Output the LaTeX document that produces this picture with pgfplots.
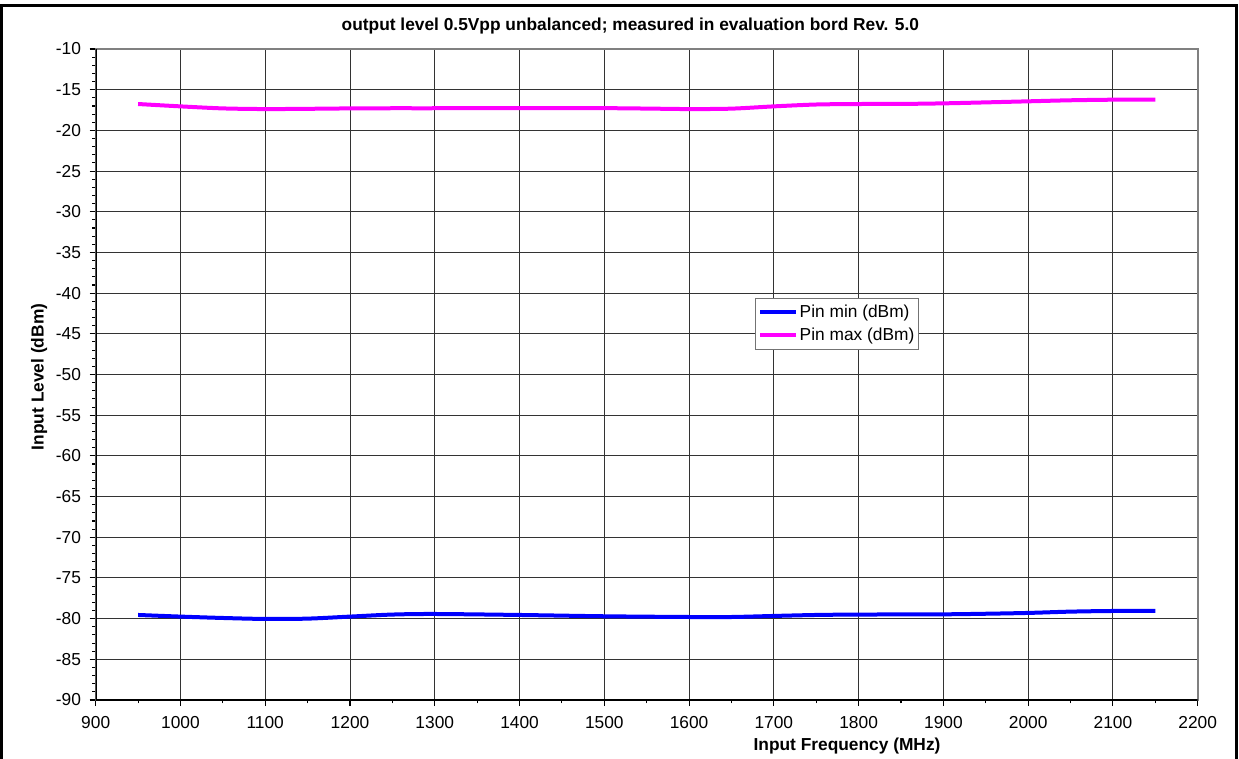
\documentclass[border=0pt]{standalone}
\usepackage{fontspec}
\setmainfont{Liberation Sans}
\usepackage{pgfplots}
\pgfplotsset{compat=1.18}
\definecolor{pinmin}{RGB}{0,0,255}
\definecolor{pinmax}{RGB}{255,0,255}
\newcommand{\chartfont}{\fontsize{13}{15}\selectfont}
\begin{document}
\begin{tikzpicture}
\useasboundingbox (-71.775pt,-43.5pt) rectangle (857.475pt,525pt);
\begin{axis}[
  scale only axis,
  width=826.5pt, height=488.25pt,
  xmin=900, xmax=2200, ymin=-90, ymax=-10,
  xtick distance=100, ytick distance=5,
  minor x tick num=1, minor y tick num=4,
  tick pos=left, tick align=outside,
  major tick length=4.5pt, minor tick length=2.5pt,
  tick style={black, line width=0.8pt},
  grid=major,
  major grid style={black!80, line width=0.75pt},
  axis line style={gray, line width=1.5pt},
  /pgf/number format/assume math mode=true,
  /pgf/number format/1000 sep={},
  tick label style={font=\chartfont},
  yticklabel style={xshift=-3pt},
  xticklabel style={yshift=-4pt},
  xlabel={Input Frequency (MHz)},
  xlabel style={font=\chartfont\bfseries, at={(0.6818,-0.0700)}, anchor=center},
  ylabel={Input Level (dBm)},
  ylabel style={font=\chartfont\bfseries, at={(-0.0514,0.4962)}, anchor=center},
  legend cell align=left,
  legend image code/.code={\draw[#1] (0pt,0pt) -- (27pt,0pt);},
  legend style={at={(0.5985,0.617)}, anchor=north west, draw=gray!90!black, line width=0.75pt, fill=white,
    font=\chartfont, inner xsep=2pt, inner ysep=1.5pt, row sep=0pt,
    nodes={inner xsep=1pt, inner ysep=3.2pt}},
]
\addplot[pinmin, line width=3pt, smooth, tension=0.5] coordinates {
(950,-79.55) (1000,-79.75) (1050,-79.92) (1100,-80.04) (1150,-80.00) (1200,-79.75)
(1250,-79.50) (1300,-79.43) (1400,-79.55) (1500,-79.71) (1600,-79.80) (1650,-79.80)
(1700,-79.67) (1750,-79.55) (1800,-79.50) (1900,-79.47) (1950,-79.40) (2000,-79.30)
(2050,-79.14) (2100,-79.06) (2150,-79.06)};
\addlegendentry{Pin min (dBm)}
\addplot[pinmax, line width=3pt, smooth, tension=0.5] coordinates {
(950,-16.76) (1000,-17.05) (1050,-17.30) (1100,-17.38) (1150,-17.35) (1200,-17.30)
(1250,-17.28) (1300,-17.28) (1400,-17.25) (1500,-17.27) (1550,-17.32) (1600,-17.38)
(1650,-17.33) (1700,-17.05) (1750,-16.82) (1800,-16.76) (1850,-16.75) (1900,-16.68)
(1950,-16.56) (2000,-16.43) (2050,-16.30) (2100,-16.23) (2150,-16.22)};
\addlegendentry{Pin max (dBm)}
\draw[black, line width=1.5pt] (rel axis cs:0,1) -- (rel axis cs:0,0) -- (rel axis cs:1,0);
\end{axis}
\node[font=\chartfont\bfseries, anchor=center] at (401pt,505.5pt)
  {output level 0.5Vpp unbalanced; measured in evaluation bord Rev. 5.0};
\draw[black, line width=2pt] (-70.8pt,-60pt) -- (-70.8pt,520.7pt) -- (855.75pt,520.7pt) -- (855.75pt,-60pt);
\end{tikzpicture}
\end{document}
